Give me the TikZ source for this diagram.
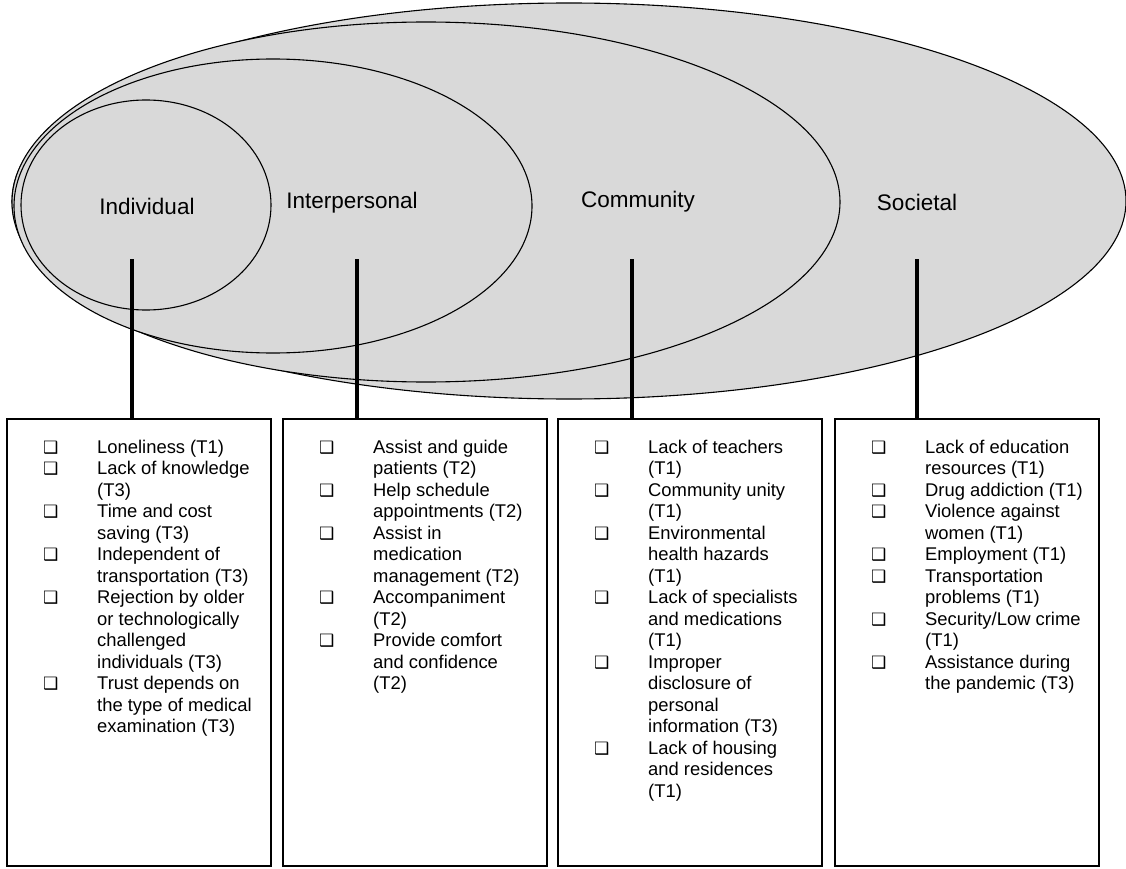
\documentclass[tikz,border=0pt]{standalone}
\usepackage{fontspec}
\setmainfont{Liberation Sans}
\newfontfamily\symfont{DejaVu Sans}
\usetikzlibrary{positioning}
\definecolor{layergray}{RGB}{217,217,217}
\newcommand{\bx}{{\symfont\fontsize{17}{17}\selectfont ❑}}
\tikzset{
  layer/.style={draw=black, line width=1.1pt, fill=layergray},
  levellabel/.style={font=\fontsize{22.5}{26}\selectfont, inner sep=0pt},
  factorbox/.style={draw=black, line width=2.5pt, minimum width=264pt, minimum height=447pt,
    anchor=north west, inner sep=0pt, outer sep=0pt},
  factorlist/.style={inner sep=0pt, font=\fontsize{18.4}{21.5}\selectfont},
  stem/.style={line width=4pt}
}
\begin{document}
\begin{tikzpicture}[x=1pt,y=-1pt]
    \useasboundingbox (0,0) rectangle (1126,869);

    % nested levels, outermost first
    \draw[layer] (569,201) ellipse [x radius=557pt, y radius=198pt];
    \draw[layer] (426,202) ellipse [x radius=414pt, y radius=180pt];
    \draw[layer] (273,206) ellipse [x radius=259pt, y radius=147pt];
    \draw[layer] (146,205) ellipse [x radius=125pt, y radius=105pt];

    \node[levellabel] (ind) at (147,206) {Individual};
    \node[levellabel] (inter) at (352,203) {Interpersonal};
    \node[levellabel] (comm) at (638,202) {Community};
    \node[levellabel] (soc) at (917,202) {Societal};

    % boxes of factors
    \node[factorbox] (b1) at (7,419) {};
    \node[factorbox] (b2) at (283,419) {};
    \node[factorbox] (b3) at (558,419) {};
    \node[factorbox] (b4) at (835,419) {};

    \node[factorlist, below right=19pt and 36pt of b1.north west] (l1) {%
      \begin{tabular}{@{}p{54pt}@{}l@{}}
        \bx & Loneliness (T1)\\
        \bx & Lack of knowledge\\
            & (T3)\\
        \bx & Time and cost\\
            & saving (T3)\\
        \bx & Independent of\\
            & transportation (T3)\\
        \bx & Rejection by older\\
            & or technologically\\
            & challenged\\
            & individuals (T3)\\
        \bx & Trust depends on\\
            & the type of medical\\
            & examination (T3)
      \end{tabular}};
    \node[factorlist, below right=19pt and 36pt of b2.north west] (l2) {%
      \begin{tabular}{@{}p{54pt}@{}l@{}}
        \bx & Assist and guide\\
            & patients (T2)\\
        \bx & Help schedule\\
            & appointments (T2)\\
        \bx & Assist in\\
            & medication\\
            & management (T2)\\
        \bx & Accompaniment\\
            & (T2)\\
        \bx & Provide comfort\\
            & and confidence\\
            & (T2)
      \end{tabular}};
    \node[factorlist, below right=19pt and 36pt of b3.north west] (l3) {%
      \begin{tabular}{@{}p{54pt}@{}l@{}}
        \bx & Lack of teachers\\
            & (T1)\\
        \bx & Community unity\\
            & (T1)\\
        \bx & Environmental\\
            & health hazards\\
            & (T1)\\
        \bx & Lack of specialists\\
            & and medications\\
            & (T1)\\
        \bx & Improper\\
            & disclosure of\\
            & personal\\
            & information (T3)\\
        \bx & Lack of housing\\
            & and residences\\
            & (T1)
      \end{tabular}};
    \node[factorlist, below right=19pt and 36pt of b4.north west] (l4) {%
      \begin{tabular}{@{}p{54pt}@{}l@{}}
        \bx & Lack of education\\
            & resources (T1)\\
        \bx & Drug addiction (T1)\\
        \bx & Violence against\\
            & women (T1)\\
        \bx & Employment (T1)\\
        \bx & Transportation\\
            & problems (T1)\\
        \bx & Security/Low crime\\
            & (T1)\\
        \bx & Assistance during\\
            & the pandemic (T3)
      \end{tabular}};

    % stems from the levels down to the boxes
    \coordinate (s1) at (132,259);
    \coordinate (s2) at (357,259);
    \coordinate (s3) at (632,259);
    \coordinate (s4) at (917,259);
    \draw[stem] (s1) -- (s1 |- b1.north);
    \draw[stem] (s2) -- (s2 |- b2.north);
    \draw[stem] (s3) -- (s3 |- b3.north);
    \draw[stem] (s4) -- (s4 |- b4.north);
\end{tikzpicture}
\end{document}
